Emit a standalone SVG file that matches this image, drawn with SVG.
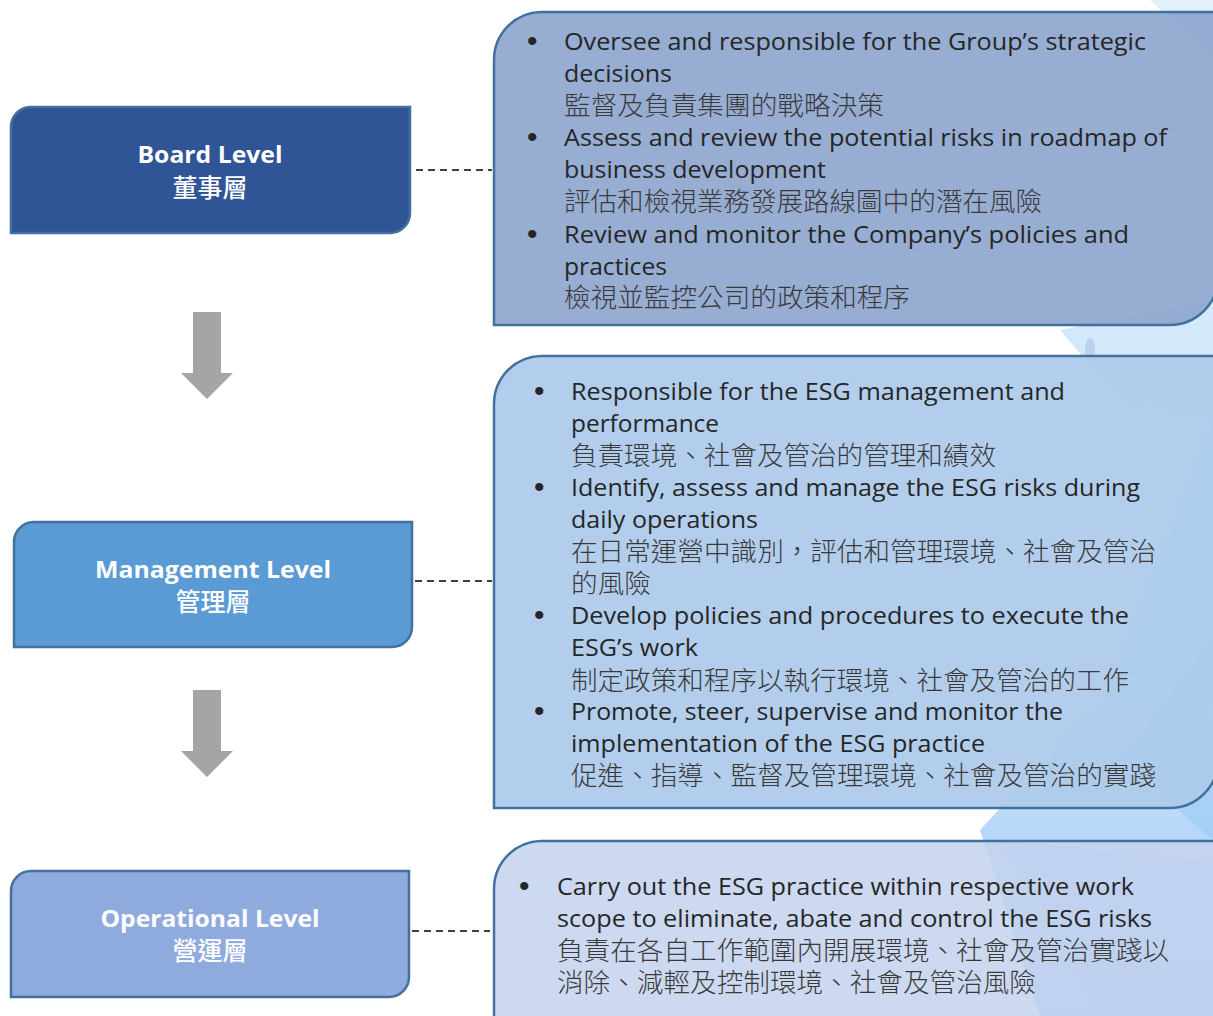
<svg xmlns="http://www.w3.org/2000/svg" width="1213" height="1016" viewBox="0 0 1213 1016">
<defs>
<linearGradient id="bgG" x1="0" y1="0" x2="0" y2="1">
<stop offset="0" stop-color="#bcdcfb"/>
<stop offset="1" stop-color="#3f95ee"/>
</linearGradient>
<style>
.lvl{stroke:#41719C;stroke-width:2.5}
.det{stroke:#41719C;stroke-width:2.5}
.en{font-family:"Open Sans","Noto Sans",sans-serif;font-size:23px;fill:#262626}
.zh{font-family:"Noto Sans CJK TC","Noto Sans CJK SC",sans-serif;font-size:26px;font-weight:300;fill:#3a3a3a}
.bl{font-family:"Liberation Sans",sans-serif;font-size:30px;fill:#262626}
.lt{font-family:"Open Sans","Noto Sans",sans-serif;font-size:23px;font-weight:bold;fill:#ffffff;text-anchor:middle}
.lz{font-family:"Noto Sans CJK TC","Noto Sans CJK SC",sans-serif;font-size:25px;font-weight:500;fill:#ffffff;text-anchor:middle}
.dash{stroke:#000000;stroke-width:1.5;stroke-dasharray:7 5;fill:none}
.arr{fill:#A5A5A5}
</style>
</defs>
<rect width="1213" height="1016" fill="#ffffff"/>
<g id="background" opacity="0.6">
<polygon points="1150,0 1213,0 1213,60" fill="#cfe6fb"/>
<polygon points="1060,330 1213,300 1213,420 1120,400" fill="#b9dafa"/>
<polygon points="1213,420 1213,700 1150,820 1080,760" fill="#9ccbf7"/>
<polygon points="980,830 1100,700 1213,720 1213,1016 1040,1016" fill="url(#bgG)"/>
<polygon points="1000,840 1213,860 1213,1016 1100,1016" fill="#3d92ee" opacity="0.7"/>
<polygon points="1120,760 1213,640 1213,840" fill="#5aa6f2" opacity="0.6"/>
<ellipse cx="1090" cy="350" rx="5" ry="12" fill="#8fb4e0"/>
</g>
<g id="connectors">
<line class="dash" x1="416" y1="170" x2="492" y2="170"/>
<line class="dash" x1="415" y1="581" x2="492" y2="581"/>
<line class="dash" x1="412" y1="931" x2="490" y2="931"/>
<polygon class="arr" points="193,312 221,312 221,373 233,373 207,399 181,373 193,373"/>
<polygon class="arr" points="193,690 221,690 221,751 233,751 207,777 181,751 193,751"/>
</g>
<g id="board-level">
<path class="lvl" fill="#2F5597" d="M30,107 H410 V213 A20,20 0 0 1 390,233 H11 V127 A20,20 0 0 1 30,107 Z"/>
<text class="lt" x="210" y="163" textLength="145" lengthAdjust="spacingAndGlyphs">Board Level</text>
<text class="lz" x="210" y="197">董事層</text>
</g>
<g id="management-level">
<path class="lvl" fill="#5B9BD5" d="M34,522 H412 V627 A20,20 0 0 1 392,647 H14 V542 A20,20 0 0 1 34,522 Z"/>
<text class="lt" x="213" y="578" textLength="236" lengthAdjust="spacingAndGlyphs">Management Level</text>
<text class="lz" x="213" y="611">管理層</text>
</g>
<g id="operational-level">
<path class="lvl" fill="#8FAADC" d="M31,871 H409 V977 A20,20 0 0 1 389,997 H11 V891 A20,20 0 0 1 31,871 Z"/>
<text class="lt" x="210" y="927" textLength="219" lengthAdjust="spacingAndGlyphs">Operational Level</text>
<text class="lz" x="210" y="960">營運層</text>
</g>
<g id="board-duties">
<path class="det" fill="#8FA7CF" fill-opacity="0.93" d="M541,12 H1218 V277 A48,48 0 0 1 1170,325 H494 V60 A48,48 0 0 1 541,12 Z"/>
<text class="bl" x="527" y="51">•</text>
<text class="en" x="564" y="50" textLength="582" lengthAdjust="spacingAndGlyphs">Oversee and responsible for the Group’s strategic</text>
<text class="en" x="564" y="82" textLength="108" lengthAdjust="spacingAndGlyphs">decisions</text>
<text class="zh" x="564" y="115" textLength="320" lengthAdjust="spacingAndGlyphs">監督及負責集團的戰略決策</text>
<text class="bl" x="527" y="147">•</text>
<text class="en" x="564" y="146" textLength="603" lengthAdjust="spacingAndGlyphs">Assess and review the potential risks in roadmap of</text>
<text class="en" x="564" y="178" textLength="262" lengthAdjust="spacingAndGlyphs">business development</text>
<text class="zh" x="564" y="211" textLength="478" lengthAdjust="spacingAndGlyphs">評估和檢視業務發展路線圖中的潛在風險</text>
<text class="bl" x="527" y="244">•</text>
<text class="en" x="564" y="243" textLength="565" lengthAdjust="spacingAndGlyphs">Review and monitor the Company’s policies and</text>
<text class="en" x="564" y="275" textLength="103" lengthAdjust="spacingAndGlyphs">practices</text>
<text class="zh" x="564" y="307" textLength="346" lengthAdjust="spacingAndGlyphs">檢視並監控公司的政策和程序</text>
</g>
<g id="management-duties">
<path class="det" fill="#ACCAEA" fill-opacity="0.92" d="M541,356 H1218 V760 A48,48 0 0 1 1170,808 H494 V404 A48,48 0 0 1 541,356 Z"/>
<text class="bl" x="534" y="401">•</text>
<text class="en" x="571" y="400" textLength="494" lengthAdjust="spacingAndGlyphs">Responsible for the ESG management and</text>
<text class="en" x="571" y="432" textLength="148" lengthAdjust="spacingAndGlyphs">performance</text>
<text class="zh" x="571" y="465" textLength="425" lengthAdjust="spacingAndGlyphs">負責環境、社會及管治的管理和績效</text>
<text class="bl" x="534" y="497">•</text>
<text class="en" x="571" y="496" textLength="569" lengthAdjust="spacingAndGlyphs">Identify, assess and manage the ESG risks during</text>
<text class="en" x="571" y="528" textLength="187" lengthAdjust="spacingAndGlyphs">daily operations</text>
<text class="zh" x="571" y="561" textLength="585" lengthAdjust="spacingAndGlyphs">在日常運營中識別，評估和管理環境、社會及管治</text>
<text class="zh" x="571" y="593" textLength="80" lengthAdjust="spacingAndGlyphs">的風險</text>
<text class="bl" x="534" y="625">•</text>
<text class="en" x="571" y="624" textLength="558" lengthAdjust="spacingAndGlyphs">Develop policies and procedures to execute the</text>
<text class="en" x="571" y="656" textLength="127" lengthAdjust="spacingAndGlyphs">ESG’s work</text>
<text class="zh" x="571" y="690" textLength="558" lengthAdjust="spacingAndGlyphs">制定政策和程序以執行環境、社會及管治的工作</text>
<text class="bl" x="534" y="721">•</text>
<text class="en" x="571" y="720" textLength="492" lengthAdjust="spacingAndGlyphs">Promote, steer, supervise and monitor the</text>
<text class="en" x="571" y="752" textLength="414" lengthAdjust="spacingAndGlyphs">implementation of the ESG practice</text>
<text class="zh" x="571" y="785" textLength="585" lengthAdjust="spacingAndGlyphs">促進、指導、監督及管理環境、社會及管治的實踐</text>
</g>
<g id="operational-duties">
<path class="det" fill="#C6D4EE" fill-opacity="0.88" d="M541,841 H1218 V1030 H494 V889 A48,48 0 0 1 541,841 Z"/>
<text class="bl" x="519" y="896">•</text>
<text class="en" x="557" y="895" textLength="577" lengthAdjust="spacingAndGlyphs">Carry out the ESG practice within respective work</text>
<text class="en" x="557" y="927" textLength="595" lengthAdjust="spacingAndGlyphs">scope to eliminate, abate and control the ESG risks</text>
<text class="zh" x="557" y="960" textLength="612" lengthAdjust="spacingAndGlyphs">負責在各自工作範圍內開展環境、社會及管治實踐以</text>
<text class="zh" x="557" y="992" textLength="479" lengthAdjust="spacingAndGlyphs">消除、減輕及控制環境、社會及管治風險</text>
</g>
</svg>
